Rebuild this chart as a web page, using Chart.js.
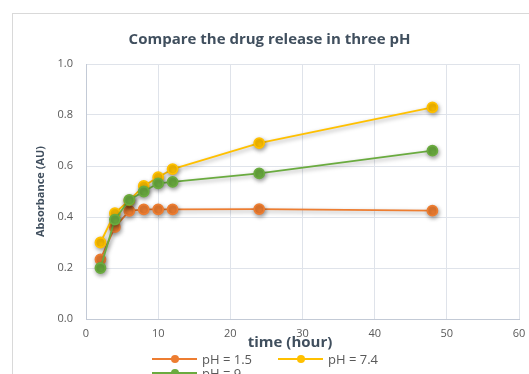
<!DOCTYPE html>
<html>
<head>
<meta charset="utf-8">
<script src="https://cdn.jsdelivr.net/npm/chart.js@4/dist/chart.umd.min.js"></script>
<style>
  html, body { margin: 0; padding: 0; background: #ffffff; }
  #wrap { width: 529px; height: 374px; position: relative; }
</style>
</head>
<body>
<div id="wrap"><canvas id="c" width="529" height="374"></canvas></div>
<script>
// Sampling times (hours) and measured absorbance for each pH
const times = [2, 4, 6, 8, 10, 12, 24, 48];
const ph15 = [0.234, 0.36, 0.424, 0.43, 0.43, 0.43, 0.431, 0.425];
const ph74 = [0.30, 0.415, 0.465, 0.522, 0.556, 0.588, 0.69, 0.83];
const ph9  = [0.20, 0.39, 0.467, 0.50, 0.532, 0.538, 0.571, 0.66];

const seriesNames = ['pH = 1.5', 'pH = 7.4', 'pH = 9'];
const seriesColors = ['#ED7D31', '#FFC000', '#6AAB3F'];

const chartTitle = 'Compare the drug release in three pH';
const xTitle = 'time (hour)';
const yTitle = 'Absorbance (AU)';

const FONT = "'Open Sans', 'Noto Sans', sans-serif";
const TEXT = '#595959';

function pts(ys) { return times.map((t, i) => ({ x: t, y: ys[i] })); }

function makeSet(label, color, ys, order) {
  return {
    label, data: pts(ys), order,
    borderColor: color, backgroundColor: color,
    pointBackgroundColor: color, pointBorderColor: color,
    borderWidth: 1.8, pointRadius: 5, pointHoverRadius: 5,
    showLine: true, tension: 0
  };
}

// Outer frame, soft shadows on series, x-axis caption and legend
const decor = {
  id: 'decor',
  beforeDraw(chart) {
    const ctx = chart.ctx;
    ctx.save();
    ctx.fillStyle = '#ffffff';
    ctx.fillRect(0, 0, chart.width, chart.height);
    ctx.strokeStyle = '#d9d9d9';
    ctx.lineWidth = 1;
    ctx.strokeRect(12.5, 13.5, chart.width + 20, chart.height + 20);
    ctx.restore();
  },
  beforeDatasetDraw(chart) {
    const ctx = chart.ctx;
    ctx.save();
    ctx.shadowColor = 'rgba(0,0,0,0.35)';
    ctx.shadowBlur = 4;
    ctx.shadowOffsetX = 1;
    ctx.shadowOffsetY = 2;
  },
  afterDatasetDraw(chart) {
    chart.ctx.restore();
  },
  afterDraw(chart) {
    const ctx = chart.ctx;
    ctx.save();
    // x-axis caption
    ctx.fillStyle = '#404f5e';
    ctx.font = "bold 15px " + FONT;
    ctx.textAlign = 'center';
    ctx.textBaseline = 'middle';
    ctx.fillText(xTitle, 290, 343);
    // legend: line with marker, then label
    ctx.font = "13px " + FONT;
    ctx.textAlign = 'left';
    chart.data.datasets.forEach((ds, i) => {
      const row = i < 2 ? 0 : 1, col = i % 2;
      const x0 = 152 + col * 126;
      const y = 359 + row * 14;
      ctx.strokeStyle = ds.borderColor;
      ctx.lineWidth = 2;
      ctx.beginPath();
      ctx.moveTo(x0, y);
      ctx.lineTo(x0 + 45, y);
      ctx.stroke();
      ctx.fillStyle = ds.borderColor;
      ctx.beginPath();
      ctx.arc(x0 + 23, y, 4, 0, Math.PI * 2);
      ctx.fill();
      ctx.fillStyle = TEXT;
      ctx.fillText(ds.label, x0 + 50, y + 1);
    });
    ctx.restore();
  }
};

new Chart(document.getElementById('c'), {
  type: 'scatter',
  data: {
    datasets: [
      makeSet(seriesNames[0], seriesColors[0], ph15, 2),
      makeSet(seriesNames[1], seriesColors[1], ph74, 1),
      makeSet(seriesNames[2], seriesColors[2], ph9, 0)
    ]
  },
  options: {
    responsive: false,
    animation: false,
    layout: { padding: { left: 20, right: 10, top: 0, bottom: 22 } },
    plugins: {
      legend: { display: false },
      tooltip: { enabled: false },
      title: {
        display: true,
        text: chartTitle,
        color: '#404f5e',
        font: { family: FONT, size: 15, weight: 'bold' },
        padding: { top: 31, bottom: 15 }
      }
    },
    scales: {
      x: {
        type: 'linear',
        min: 0, max: 60,
        afterFit(s) { s.height = 33; s.paddingLeft = 0; s.paddingRight = 0; },
        ticks: { stepSize: 10, padding: 8, color: TEXT, font: { family: FONT, size: 11 } },
        grid: { color: '#dfe3ea', drawTicks: false },
        border: { color: '#c3cad6', width: 1 }
      },
      y: {
        min: 0, max: 1,
        afterFit(s) { s.width = 66; },
        ticks: {
          stepSize: 0.2, padding: 13, color: TEXT,
          font: { family: FONT, size: 11 },
          callback: v => v.toFixed(1)
        },
        grid: { color: '#dfe3ea', drawTicks: false },
        border: { color: '#c3cad6', width: 1 },
        title: {
          display: true, text: yTitle, color: '#404f5e',
          font: { family: FONT, size: 11, weight: 'bold' },
          padding: { top: 14, bottom: 0 }
        }
      }
    }
  },
  plugins: [decor]
});
</script>
</body>
</html>
